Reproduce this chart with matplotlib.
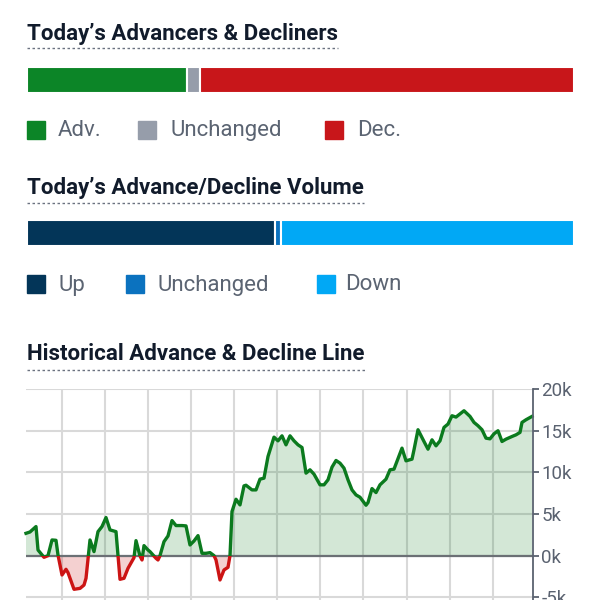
import matplotlib
matplotlib.use('Agg')
import matplotlib.pyplot as plt
from matplotlib.patches import Rectangle
from matplotlib.lines import Line2D
import numpy as np

plt.rcParams['font.family'] = ['Roboto', 'DejaVu Sans']

# today's advancers / decliners (issues)
breadth_labels = ['Adv.', 'Unchanged', 'Dec.']
breadth_counts = [1180, 92, 2750]
breadth_colors = ['#0c8527', '#969daa', '#c8161a']

# today's advance / decline volume (millions of shares)
volume_labels = ['Up', 'Unchanged', 'Down']
volume_values = [1860, 45, 2190]
volume_colors = ['#033558', '#0b72bf', '#01a8f5']

# historical advance-decline line (trading day, cumulative value)
days = [0, 2, 5, 6, 9, 11, 13, 15, 16, 18, 20, 21, 24, 27, 29, 30, 32, 34, 36, 38,
        40, 42, 45, 47, 49, 51, 54, 55, 57, 58, 59, 61, 62, 65, 66, 67, 69, 71, 73, 75,
        78, 80, 82, 84, 86, 88, 90, 92, 94, 95, 97, 99, 101, 102, 103, 105, 107, 109, 110, 113,
        115, 117, 119, 121, 124, 126, 128, 130, 132, 134, 136, 138, 140, 142, 144, 147, 149, 151, 153, 155,
        157, 159, 161, 163, 165, 167, 170, 171, 173, 175, 177, 180, 182, 184, 188, 190, 193, 194, 196, 199,
        201, 203, 205, 207, 209, 211, 213, 215, 219, 222, 224, 226, 228, 230, 232, 234, 236, 238, 240, 243,
        245, 247, 248, 250, 253]
ad_line = [2680, 2840, 3490, 680, -200, 0, 1880, 1840, 80, -2320, -1640, -2040, -4040, -3930, -3530, -2720, 1880, 480, 2880, 3490,
           4570, 3090, 2880, -2840, -2720, -1520, -240, 1800, -40, -520, 1200, 680, 480, -320, -520, 0, 1680, 2360, 4210, 3610,
           3610, 3570, 1280, 1760, 2400, 280, 280, 360, 0, -520, -2920, -1720, -1400, 0, 5290, 6770, 6090, 8370, 8450, 7890,
           7890, 9180, 9300, 11900, 14220, 13780, 14380, 13300, 14380, 13780, 13300, 12980, 9900, 10300, 9780, 8500, 8500, 9100, 10620, 11420,
           11100, 10500, 9100, 7890, 7290, 7010, 6050, 6370, 8050, 7570, 8500, 9180, 10300, 10380, 12900, 11380, 11580, 12700, 15110, 13700,
           12780, 13900, 13180, 13780, 15390, 15790, 16790, 16630, 17390, 16710, 15990, 15590, 15110, 14100, 14020, 14620, 14990, 13700, 13980, 14300,
           14500, 14790, 15990, 16310, 16710]

W = H = 600.0
fig = plt.figure(figsize=(6, 6), dpi=100)


def fx(px):
    return px / W


def fy(py):
    return 1 - py / H


title_color = '#111b2b'
legend_text = '#5b6472'


def section_title(text, y_text, y_line):
    t = fig.text(fx(27), fy(y_text), text, fontsize=16, fontweight='bold',
                 color=title_color, va='center', ha='left')
    fig.canvas.draw()
    bb = t.get_window_extent(fig.canvas.get_renderer())
    fig.add_artist(Line2D([fx(27), bb.x1 / W], [fy(y_line), fy(y_line)],
                          transform=fig.transFigure, color='#6b7280', lw=1.0,
                          linestyle=(0, (1.8, 1.8))))


def stacked_bar(y_top, y_bot, values, colors):
    ax = fig.add_axes([fx(27), fy(y_bot), fx(574) - fx(27), fy(y_top) - fy(y_bot)])
    left = 0
    for v, c in zip(values, colors):
        ax.barh(0, v, left=left, height=1, color=c, edgecolor='white', linewidth=1.5)
        left += v
    ax.set_xlim(0, sum(values))
    ax.set_ylim(-0.5, 0.5)
    ax.axis('off')


def legend_row(y, labels, colors, sq_x, txt_x):
    for lab, c, sx, tx in zip(labels, colors, sq_x, txt_x):
        fig.add_artist(Rectangle((fx(sx), fy(y + 9)), 18 / W, 18 / H,
                                 transform=fig.transFigure, color=c))
        fig.text(fx(tx), fy(y + 1), lab, fontsize=16, color=legend_text,
                 va='center', ha='left')


section_title("Today\u2019s Advancers & Decliners", 34, 48)
stacked_bar(67, 93, breadth_counts, breadth_colors)
legend_row(130, breadth_labels, breadth_colors, [27, 138, 325], [58, 171, 357])

section_title("Today\u2019s Advance/Decline Volume", 188, 203)
stacked_bar(220, 246, volume_values, volume_colors)
legend_row(284, volume_labels, volume_colors, [27, 126, 317], [58, 158, 345])

section_title("Historical Advance & Decline Line", 354, 370)

# historical chart, bottom part runs off the figure
ax = fig.add_axes([fx(26), 0, fx(533) - fx(26), fy(389) - 0])
x = np.array(days)
y = np.array(ad_line)
green = '#0b7a1e'
red = '#cc1414'

ax.fill_between(x, y, 0, where=y >= 0, interpolate=True, color=green, alpha=0.18, lw=0)
ax.fill_between(x, y, 0, where=y <= 0, interpolate=True, color=red, alpha=0.2, lw=0)
up, = ax.plot(x, y, color=green, lw=2.4, solid_joinstyle='round')
dn, = ax.plot(x, y, color=red, lw=2.4, solid_joinstyle='round')
up.set_clip_path(Rectangle((-10, 0), 300, 1e5, transform=ax.transData))
dn.set_clip_path(Rectangle((-10, -1e5), 300, 1e5, transform=ax.transData))
ax.axhline(0, color='#6b7075', lw=1.6, zorder=1.5)

ax.set_xlim(0, 253.5)
ax.set_ylim(-5325, 20000)
ax.set_xticks(17.85 + 21.55 * np.arange(11))
ax.set_yticks([-5000, 0, 5000, 10000, 15000, 20000])
ax.set_yticklabels(['-5k', '0k', '5k', '10k', '15k', '20k'])
ax.yaxis.tick_right()
ax.tick_params(axis='x', length=0, labelbottom=False)
ax.tick_params(axis='y', colors='#5a6270', labelsize=13.5, length=4.5, width=1.3, pad=1.5)
ax.grid(True, color='#d9d9d9', lw=1.5)
ax.set_axisbelow(True)
for s in ['left', 'top', 'bottom']:
    ax.spines[s].set_visible(False)
ax.spines['right'].set_color('#5a6270')
ax.spines['right'].set_linewidth(1.3)

fig.savefig('out.png', dpi=100)
